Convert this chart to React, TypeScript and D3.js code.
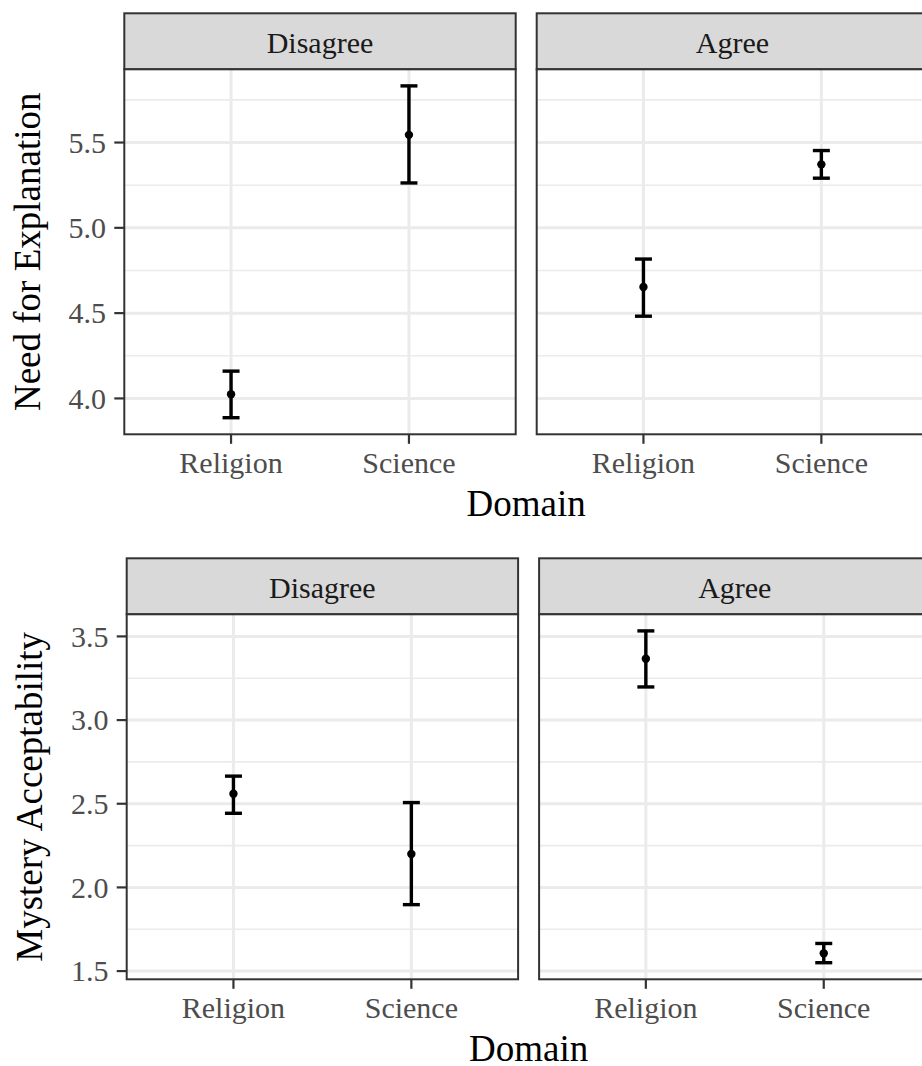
import React from "react";
import * as d3 from "d3";

const domains = ["Religion", "Science"];
const facets = ["Disagree", "Agree"];

const needDisagreeMean = [4.025, 5.545];
const needDisagreeLow = [3.887, 5.263];
const needDisagreeHigh = [4.16, 5.832];
const needAgreeMean = [4.653, 5.372];
const needAgreeLow = [4.482, 5.291];
const needAgreeHigh = [4.817, 5.453];

const mysteryDisagreeMean = [2.56, 2.2];
const mysteryDisagreeLow = [2.443, 1.897];
const mysteryDisagreeHigh = [2.665, 2.507];
const mysteryAgreeMean = [3.367, 1.606];
const mysteryAgreeLow = [3.198, 1.55];
const mysteryAgreeHigh = [3.533, 1.665];

const needTicks = ["4.0", "4.5", "5.0", "5.5"];
const mysteryTicks = ["1.5", "2.0", "2.5", "3.0", "3.5"];

const W = 922;
const H = 1066;
const FONT = "'Liberation Serif', 'Times New Roman', serif";

type Series = { mean: number[]; low: number[]; high: number[] };

const rows = [
  {
    title: "Need for Explanation",
    left: 124.3,
    top: 13.3,
    ticks: needTicks,
    series: [
      { mean: needDisagreeMean, low: needDisagreeLow, high: needDisagreeHigh },
      { mean: needAgreeMean, low: needAgreeLow, high: needAgreeHigh },
    ] as Series[],
  },
  {
    title: "Mystery Acceptability",
    left: 126.7,
    top: 558.3,
    ticks: mysteryTicks,
    series: [
      { mean: mysteryDisagreeMean, low: mysteryDisagreeLow, high: mysteryDisagreeHigh },
      { mean: mysteryAgreeMean, low: mysteryAgreeLow, high: mysteryAgreeHigh },
    ] as Series[],
  },
];

const stripH = 56;
const panelH = 365;
const panelW = 391.4;
const gap = 21;

function Row({ row }: { row: (typeof rows)[number] }) {
  const allLow = d3.min(row.series.flatMap((s) => s.low)) as number;
  const allHigh = d3.max(row.series.flatMap((s) => s.high)) as number;
  const r = allHigh - allLow;
  const y = d3
    .scaleLinear()
    .domain([allLow - 0.05 * r, allHigh + 0.05 * r])
    .range([panelH, 0]);
  const x = d3.scalePoint<string>().domain(domains).range([0, panelW]).padding(0.6);
  const majors = row.ticks.map(Number);
  const minors: number[] = [];
  const [d0, d1] = y.domain();
  for (let i = 0; i < majors.length + 1; i++) {
    const v = majors[0] - 0.25 + i * 0.5;
    if (v > d0 && v < d1) minors.push(v);
  }
  const panelTop = row.top + stripH;
  const capHalf = 8.5;

  return (
    <g>
      {facets.map((f, fi) => {
        const px = row.left + fi * (panelW + gap);
        const s = row.series[fi];
        return (
          <g key={f} transform={`translate(${px},0)`}>
            <rect x={0} y={row.top} width={panelW} height={stripH} fill="#D9D9D9" stroke="#333333" strokeWidth={2} />
            <text x={panelW / 2} y={row.top + 39.5} textAnchor="middle" fontFamily={FONT} fontSize={30} fill="#1A1A1A">
              {f}
            </text>
            <g transform={`translate(0,${panelTop})`}>
              <rect x={0} y={0} width={panelW} height={panelH} fill="#FFFFFF" />
              {minors.map((v) => (
                <line key={"mi" + v} x1={0} x2={panelW} y1={y(v)} y2={y(v)} stroke="#EBEBEB" strokeWidth={1.6} />
              ))}
              {majors.map((v) => (
                <line key={"ma" + v} x1={0} x2={panelW} y1={y(v)} y2={y(v)} stroke="#EBEBEB" strokeWidth={3} />
              ))}
              {domains.map((d) => (
                <line key={"vx" + d} x1={x(d)} x2={x(d)} y1={0} y2={panelH} stroke="#EBEBEB" strokeWidth={3} />
              ))}
              {domains.map((d, i) => {
                const cx = x(d) as number;
                return (
                  <g key={"eb" + d}>
                    <line x1={cx} x2={cx} y1={y(s.low[i])} y2={y(s.high[i])} stroke="#000" strokeWidth={3.4} />
                    <line x1={cx - capHalf} x2={cx + capHalf} y1={y(s.low[i])} y2={y(s.low[i])} stroke="#000" strokeWidth={3.4} />
                    <line x1={cx - capHalf} x2={cx + capHalf} y1={y(s.high[i])} y2={y(s.high[i])} stroke="#000" strokeWidth={3.4} />
                    <circle cx={cx} cy={y(s.mean[i])} r={4.2} fill="#000" />
                  </g>
                );
              })}
              <rect x={0} y={0} width={panelW} height={panelH} fill="none" stroke="#333333" strokeWidth={2} />
              {domains.map((d) => (
                <g key={"xt" + d}>
                  <line x1={x(d)} x2={x(d)} y1={panelH} y2={panelH + 9.5} stroke="#333333" strokeWidth={2.2} />
                  <text x={x(d)} y={panelH + 39} textAnchor="middle" fontFamily={FONT} fontSize={30} fill="#4D4D4D">
                    {d}
                  </text>
                </g>
              ))}
              {fi === 0 &&
                row.ticks.map((t) => (
                  <g key={"yt" + t}>
                    <line x1={-10} x2={0} y1={y(+t)} y2={y(+t)} stroke="#333333" strokeWidth={2.2} />
                    <text x={-18.3} y={y(+t)} dy="0.34em" textAnchor="end" fontFamily={FONT} fontSize={30} fill="#4D4D4D">
                      {t}
                    </text>
                  </g>
                ))}
            </g>
          </g>
        );
      })}
      <text
        x={row.left + (2 * panelW + gap) / 2}
        y={panelTop + panelH + 82}
        textAnchor="middle"
        fontFamily={FONT}
        fontSize={37}
        fill="#000"
      >
        Domain
      </text>
      <text
        transform={`translate(${row.left - 84.3},${panelTop + panelH / 2}) rotate(-90)`}
        textAnchor="middle"
        fontFamily={FONT}
        fontSize={37}
        fill="#000"
      >
        {row.title}
      </text>
    </g>
  );
}

export default function App() {
  return (
    <svg
      width={W}
      height={H}
      viewBox={`0 0 ${W} ${H}`}
      style={{ position: "absolute", left: 0, top: 0, overflow: "hidden", background: "#fff" }}
    >
      <rect x={0} y={0} width={W} height={H} fill="#fff" />
      {rows.map((row) => (
        <Row key={row.title} row={row} />
      ))}
    </svg>
  );
}
